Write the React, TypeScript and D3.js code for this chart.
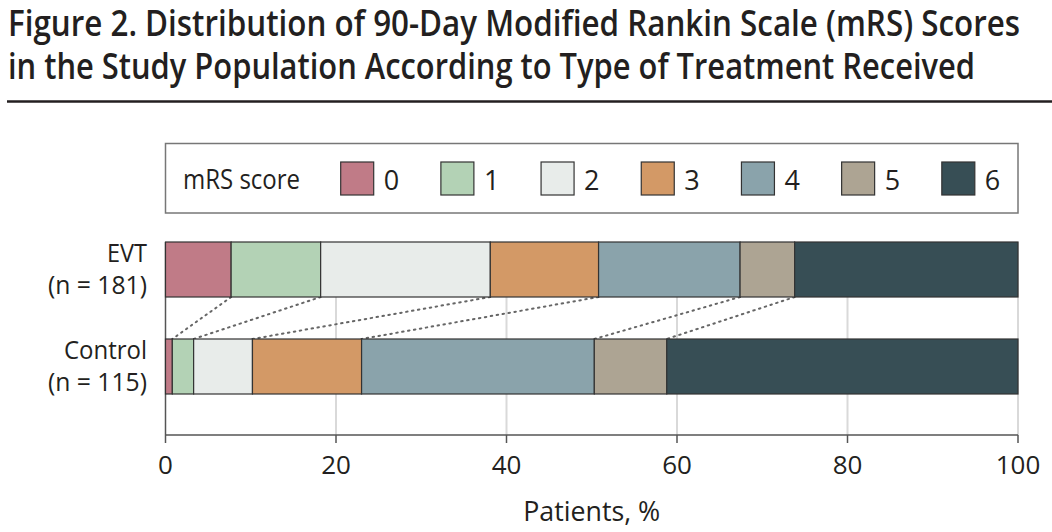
import React from "react";
import * as d3 from "d3";

const titleLines = [
  "Figure 2. Distribution of 90-Day Modified Rankin Scale (mRS) Scores",
  "in the Study Population According to Type of Treatment Received",
];
const groups = ["EVT", "Control"];
const groupNs = ["(n = 181)", "(n = 115)"];
const scores = ["0", "1", "2", "3", "4", "5", "6"];
const evtPct = [7.7, 10.5, 19.9, 12.7, 16.6, 6.4, 26.2];
const controlPct = [0.8, 2.5, 6.9, 12.8, 27.3, 8.5, 41.2];
const scoreColors = ["#c07b87", "#b3d2b5", "#e8ecea", "#d39966", "#8aa3ab", "#ada493", "#374e55"];
const xTicks = [0, 20, 40, 60, 80, 100];
const xLabel = "Patients, %";
const legendTitle = "mRS score";

const FONT = "'Open Sans', 'Liberation Sans', sans-serif";

export default function App() {
  const W = 1052, H = 532;
  const x = d3.scaleLinear().domain([0, 100]).range([165.5, 1018]);
  const y = d3.scaleBand<string>().domain(groups).range([221, 415]).paddingInner(0.433).paddingOuter(0.2165);
  const bw = y.bandwidth();
  const plotTop = 242, plotBottom = 435;
  const color = d3.scaleOrdinal<string, string>().domain(scores).range(scoreColors);

  const series = [evtPct, controlPct].map((vals, gi) => {
    const cum = d3.cumsum(vals);
    return vals.map((v, i) => ({ group: groups[gi], score: scores[i], x0: cum[i] - v, x1: cum[i] }));
  });
  const evtCum = Array.from(d3.cumsum(evtPct));
  const ctlCum = Array.from(d3.cumsum(controlPct));
  const connectors = evtCum.slice(0, -1).map((c, i) => ({ a: c, b: ctlCum[i] }));

  const legendX = d3.scaleBand<string>().domain(scores).range([340.7, 1042]).paddingInner(0);
  const labelLens: Record<string, number> = { "EVT": 40, "Control": 83, "(n = 181)": 99, "(n = 115)": 99 };

  return (
    <svg width={W} height={H} style={{ position: "absolute", left: 0, top: 0, background: "#fff" }} fontFamily={FONT}>
      <rect x={0} y={0} width={W} height={H} fill="#fff" />
      {titleLines.map((t, i) => (
        <text key={i} x={8} y={36 + i * 43} fontSize={36} fontWeight={600} fill="#231f20"
          textLength={i === 0 ? 1012 : 967} lengthAdjust="spacingAndGlyphs">{t}</text>
      ))}
      <line x1={7} x2={1052} y1={101.5} y2={101.5} stroke="#231f20" strokeWidth={2.5} />

      {/* legend */}
      <rect x={165.5} y={143.5} width={852.5} height={69.5} fill="#fff" stroke="#777" strokeWidth={1.5} />
      <text x={183} y={189} fontSize={27} fill="#231f20" textLength={117} lengthAdjust="spacingAndGlyphs">{legendTitle}</text>
      {scores.map((s) => (
        <g key={s}>
          <rect x={legendX(s)} y={162} width={33} height={33} fill={color(s)} stroke="#333" strokeWidth={1.2} />
          <text x={(legendX(s) as number) + 43} y={190} fontSize={27} fill="#231f20">{s}</text>
        </g>
      ))}

      {/* gridlines */}
      {xTicks.slice(1).map((t) => (
        <line key={t} x1={x(t)} x2={x(t)} y1={plotTop} y2={plotBottom} stroke="#d9d9d9" strokeWidth={2} />
      ))}
      <line x1={x(0)} x2={x(0)} y1={plotTop} y2={plotBottom} stroke="#555" strokeWidth={1.5} />

      {/* connectors */}
      {connectors.map((c, i) => (
        <line key={i} x1={x(c.a)} y1={(y("EVT") as number) + bw} x2={x(c.b)} y2={y("Control") as number}
          stroke="#666" strokeWidth={2} strokeDasharray="1.5,4.5" strokeLinecap="round" />
      ))}

      {/* bars */}
      {series.map((segs, gi) => (
        <g key={gi}>
          {segs.map((d) => (
            <rect key={d.score} x={x(d.x0)} y={y(d.group)} width={x(d.x1) - x(d.x0)} height={bw}
              fill={color(d.score)} stroke="#333" strokeWidth={1.2} />
          ))}
        </g>
      ))}

      {/* group labels */}
      {groups.map((g, i) => (
        <g key={g}>
          <text x={147} y={(y(g) as number) + 20} fontSize={26} textAnchor="end" fill="#231f20"
            textLength={labelLens[g]} lengthAdjust="spacingAndGlyphs">{g}</text>
          <text x={147} y={(y(g) as number) + 52} fontSize={26} textAnchor="end" fill="#231f20"
            textLength={labelLens[groupNs[i]]} lengthAdjust="spacingAndGlyphs">{groupNs[i]}</text>
        </g>
      ))}

      {/* x axis */}
      <line x1={x(0)} x2={x(100)} y1={plotBottom} y2={plotBottom} stroke="#555" strokeWidth={1.5} />
      {xTicks.map((t) => (
        <g key={t}>
          <line x1={x(t)} x2={x(t)} y1={plotBottom} y2={plotBottom + 8} stroke="#555" strokeWidth={1.5} />
          <text x={x(t)} y={474} fontSize={26} textAnchor="middle" fill="#231f20">{t}</text>
        </g>
      ))}
      <text x={(x(0) + x(100)) / 2} y={521} fontSize={28} textAnchor="middle" fill="#231f20"
        textLength={137} lengthAdjust="spacingAndGlyphs">{xLabel}</text>
    </svg>
  );
}
